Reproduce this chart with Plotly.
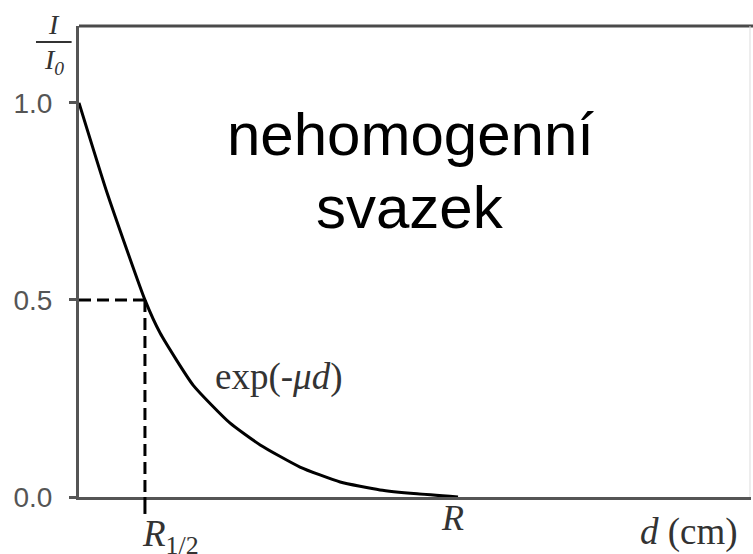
import plotly.graph_objects as go

# data (d in arbitrary cm units, R = 10)
d_vals = [0, 0.74, 1.74, 2.14, 3.01, 3.98, 4.78, 5.83, 6.89, 7.94, 8.92, 10.0]
I_vals = [1.0, 0.772, 0.5, 0.416, 0.284, 0.188, 0.132, 0.076, 0.038, 0.018, 0.008, 0.0]
R_half = 1.74
I_half = 0.5
R_end = 10.0
y_ticks = [0.0, 0.5, 1.0]
y_ticklabels = ["0.0", "0.5", "1.0"]

X_MAX = 17.73
Y_MAX = 1.195
AXC = "#555555"
SERIF = "Liberation Serif, Times New Roman, serif"
SANS = "Liberation Sans, Arial, sans-serif"

fig = go.Figure()
fig.add_trace(go.Scatter(x=d_vals, y=I_vals, mode="lines", line=dict(color="black", width=3, shape="spline", smoothing=0.5),
                         hoverinfo="skip", showlegend=False))
# dashed guides
fig.add_trace(go.Scatter(x=[0, R_half], y=[I_half, I_half], mode="lines",
                         line=dict(color="black", width=3, dash="12px,6px"), showlegend=False, hoverinfo="skip"))
fig.add_trace(go.Scatter(x=[R_half, R_half], y=[I_half, 0], mode="lines",
                         line=dict(color="black", width=3, dash="12px,6px"), showlegend=False, hoverinfo="skip"))

FRAC_Y = 0.966
shapes = [
    # top border
    dict(type="line", xref="paper", yref="paper", x0=0, x1=1.01, y0=1, y1=1, line=dict(color="#4a4a4a", width=3)),
    # faint right border
    dict(type="line", xref="paper", yref="paper", x0=0.9985, x1=0.9985, y0=0, y1=1, line=dict(color="#dddddd", width=1)),
    # dashed stub below axis at R_half
    dict(type="line", xref="x", yref="paper", x0=R_half, x1=R_half, y0=0, y1=-0.036,
         line=dict(color="black", width=3)),
    # fraction bar
    dict(type="line", xref="paper", yref="paper", x0=-0.064, x1=-0.011, y0=FRAC_Y, y1=FRAC_Y,
         line=dict(color="#333333", width=2)),
]

annotations = [
    dict(text="nehomogenní", x=0.4926, y=0.695, xref="paper", yref="paper", showarrow=False,
         font=dict(family=SANS, size=60, color="black"), xanchor="center", yanchor="bottom"),
    dict(text="svazek", x=0.4926, y=0.539, xref="paper", yref="paper", showarrow=False,
         font=dict(family=SANS, size=60, color="black"), xanchor="center", yanchor="bottom"),
    dict(text="exp(-<i>μd</i>)", x=5.27, y=0.305, xref="x", yref="y", showarrow=False,
         font=dict(family=SERIF, size=37, color="#333333"), xanchor="center", yanchor="middle"),
    dict(text="<i>R</i>", x=R_end - 0.15, y=-0.045, xref="x", yref="paper", showarrow=False,
         font=dict(family=SERIF, size=36, color="#333333"), xanchor="center", yanchor="middle"),
    dict(text="<i>R</i><sub>1/2</sub>", x=R_half - 0.12, y=-0.083, xref="x", yref="paper", showarrow=False,
         font=dict(family=SERIF, size=37, color="#333333"), xanchor="left", yanchor="middle"),
    dict(text="<i>d</i> (cm)", x=16.1, y=-0.075, xref="x", yref="paper", showarrow=False,
         font=dict(family=SERIF, size=37, color="#333333"), xanchor="center", yanchor="middle"),
    dict(text="<i>I</i>", x=-0.037, y=FRAC_Y, xref="paper", yref="paper", showarrow=False,
         font=dict(family=SERIF, size=28, color="#333333"), xanchor="center", yanchor="bottom"),
    dict(text="<i>I</i><sub><i>0</i></sub>", x=-0.037, y=FRAC_Y, xref="paper", yref="paper", showarrow=False,
         font=dict(family=SERIF, size=28, color="#333333"), xanchor="center", yanchor="top"),
]

fig.update_layout(
    width=753, height=554,
    margin=dict(l=79, r=2, t=26, b=57),
    paper_bgcolor="white", plot_bgcolor="white",
    shapes=shapes, annotations=annotations,
    xaxis=dict(range=[0, X_MAX], showgrid=False, zeroline=False, showticklabels=False, ticks="",
               showline=True, linecolor=AXC, linewidth=3, fixedrange=True),
    yaxis=dict(range=[0, Y_MAX], showgrid=False, zeroline=False, tickvals=y_ticks, ticktext=y_ticklabels,
               ticks="outside", ticklen=7, tickwidth=3, tickcolor=AXC, ticklabelstandoff=11,
               tickfont=dict(family=SANS, size=28, color="#555555"),
               showline=True, linecolor=AXC, linewidth=3, fixedrange=True),
    showlegend=False,
)

fig.write_html("out.html", config={"displayModeBar": False},
               post_script="document.body.style.margin='0';document.body.style.overflow='hidden';")
